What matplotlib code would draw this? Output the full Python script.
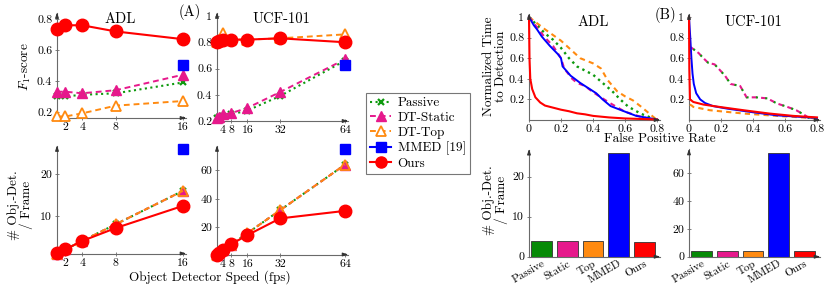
import matplotlib
matplotlib.use('Agg')
import matplotlib.pyplot as plt
from matplotlib.lines import Line2D

plt.rcParams['font.family'] = ['cmr10', 'DejaVu Serif']
plt.rcParams['mathtext.fontset'] = 'cm'
plt.rcParams['axes.formatter.use_mathtext'] = True

# ---------------- data ----------------
fps_adl = [1, 2, 4, 8, 16]
fps_ucf = [1, 2, 4, 8, 16, 32, 64]

f1_adl_passive = [0.30, 0.30, 0.31, 0.32, 0.39]
f1_adl_static = [0.33, 0.33, 0.32, 0.34, 0.44]
f1_adl_top = [0.17, 0.17, 0.19, 0.24, 0.27]
f1_adl_ours = [0.735, 0.76, 0.76, 0.72, 0.67]
f1_adl_mmed = [0.50]
fps_adl_mmed = [16]

f1_ucf_passive = [0.22, 0.23, 0.24, 0.25, 0.28, 0.39, 0.66]
f1_ucf_static = [0.22, 0.23, 0.25, 0.26, 0.30, 0.42, 0.67]
f1_ucf_top = [0.80, 0.82, 0.87, 0.82, 0.82, 0.83, 0.86]
f1_ucf_ours = [0.80, 0.81, 0.815, 0.82, 0.82, 0.83, 0.80]
f1_ucf_mmed = [0.63]
fps_ucf_mmed = [64]

det_adl_base = [1, 2, 4, 8, 16]
det_adl_ours = [1.1, 2, 4, 7.1, 12.4]
det_adl_mmed = [26]
det_ucf_base = [1, 2, 4, 8, 16, 32, 64]
det_ucf_ours = [1, 2, 4, 8.2, 14.6, 26.3, 31.6]
det_ucf_mmed = [75]

# ROC-like curves (false positive rate, normalized time to detection)
adl_ours_x = [0, 0.003, 0.008, 0.02, 0.04, 0.07, 0.1, 0.15, 0.2, 0.25, 0.3, 0.35, 0.4, 0.5, 0.6, 0.7, 0.8]
adl_ours_y = [1, 0.6, 0.4, 0.3, 0.22, 0.17, 0.14, 0.12, 0.1, 0.085, 0.065, 0.055, 0.04, 0.025, 0.015, 0.01, 0.005]
adl_mmed_x = [0, 0.03, 0.05, 0.08, 0.13, 0.18, 0.2, 0.21, 0.26, 0.32, 0.38, 0.42, 0.46, 0.51, 0.59, 0.67, 0.8]
adl_mmed_y = [1, 0.92, 0.88, 0.81, 0.72, 0.64, 0.6, 0.52, 0.43, 0.36, 0.30, 0.26, 0.2, 0.135, 0.087, 0.04, 0.005]
adl_passive_x = [0, 0.05, 0.1, 0.15, 0.2, 0.25, 0.3, 0.4, 0.46, 0.52, 0.57, 0.62, 0.7, 0.8]
adl_passive_y = [1, 0.92, 0.84, 0.78, 0.70, 0.60, 0.52, 0.44, 0.36, 0.28, 0.2, 0.13, 0.06, 0.0]
adl_static_x = [0, 0.05, 0.1, 0.15, 0.2, 0.22, 0.27, 0.3, 0.35, 0.4, 0.5, 0.6, 0.7, 0.8]
adl_static_y = [1, 0.9, 0.8, 0.72, 0.6, 0.5, 0.4, 0.36, 0.33, 0.27, 0.17, 0.08, 0.03, 0.0]
adl_top_x = [0, 0.1, 0.2, 0.32, 0.4, 0.45, 0.49, 0.55, 0.6, 0.65, 0.7, 0.8]
adl_top_y = [1, 0.88, 0.77, 0.6, 0.55, 0.5, 0.39, 0.28, 0.23, 0.19, 0.13, 0.0]

ucf_ours_x = [0, 0.002, 0.006, 0.027, 0.09, 0.19, 0.34, 0.5, 0.65, 0.8]
ucf_ours_y = [1, 0.5, 0.2, 0.175, 0.15, 0.127, 0.095, 0.063, 0.04, 0.025]
ucf_mmed_x = [0, 0.008, 0.015, 0.022, 0.03, 0.045, 0.07, 0.1, 0.15, 0.24, 0.4, 0.55, 0.8]
ucf_mmed_y = [1, 0.8, 0.6, 0.45, 0.35, 0.26, 0.2, 0.165, 0.135, 0.11, 0.075, 0.045, 0.02]
ucf_top_x = [0.005, 0.017, 0.027, 0.13, 0.34, 0.55, 0.8]
ucf_top_y = [0.15, 0.14, 0.127, 0.095, 0.063, 0.04, 0.016]
ucf_base_x = [0.005, 0.017, 0.06, 0.09, 0.12, 0.16, 0.19, 0.225, 0.26, 0.32, 0.36, 0.42, 0.49, 0.55, 0.61, 0.67, 0.72, 0.75, 0.8]
ucf_base_y = [0.71, 0.70, 0.65, 0.6, 0.555, 0.54, 0.49, 0.43, 0.35, 0.33, 0.22, 0.22, 0.21, 0.16, 0.13, 0.095, 0.05, 0.02, 0.015]

bar_labels = ['Passive', 'Static', 'Top', 'MMED', 'Ours']
bar_adl = [4.0, 4.0, 4.0, 26.0, 3.8]
bar_ucf = [4.2, 4.2, 4.2, 75.0, 4.0]

# ---------------- style ----------------
GREEN = '#0e9a0e'
PINK = '#e6198c'
ORANGE = '#ff8a10'
BLUE = '#0000ff'
RED = '#ff0000'
AXC = '#6a6a6a'
GREEN_BAR = '#078a07'

W, H = 831, 286
fig = plt.figure(figsize=(W / 100, H / 100), dpi=100)


def rect(l, r, t, b):
    return [l / W, 1 - b / H, (r - l) / W, (b - t) / H]


def style(ax, xt, xl, yt, yl, fs=8.5):
    for s in ax.spines.values():
        s.set_visible(False)
    kw = dict(arrowstyle='-|>,head_length=0.3,head_width=0.1', color='#333333',
              lw=0.8, shrinkA=0, shrinkB=0)
    ax.plot([0, 1.02], [0, 0], color=AXC, lw=0.8, transform=ax.transAxes,
            clip_on=False, zorder=1)
    ax.plot([0, 0], [0, 1.03], color=AXC, lw=0.8, transform=ax.transAxes,
            clip_on=False, zorder=1)
    ax.annotate('', xy=(1.025, 0), xytext=(1.0, 0), xycoords='axes fraction',
                arrowprops=kw, annotation_clip=False)
    ax.annotate('', xy=(0, 1.035), xytext=(0, 1.0), xycoords='axes fraction',
                arrowprops=kw, annotation_clip=False)
    ax.set_xticks(xt)
    ax.set_xticklabels(xl)
    ax.set_yticks(yt)
    ax.set_yticklabels(yl)
    ax.tick_params(direction='inout', length=3, width=0.6, color=AXC,
                   labelsize=fs, pad=2)
    ax.set_facecolor('none')


def lines(ax, x, passive, static, top, ours, xm, mmed):
    ax.plot(x, passive, ls=':', color=GREEN, lw=1.5, marker='x', ms=5, mew=1.6,
            clip_on=False, zorder=3)
    ax.plot(x, static, ls=(0, (3, 2)), color=PINK, lw=1.4, marker='^', ms=7,
            mfc=PINK, mec=PINK, clip_on=False, zorder=4)
    ax.plot(x, top, ls=(0, (3, 2)), color=ORANGE, lw=1.4, marker='^', ms=7,
            mfc='white', mec=ORANGE, mew=1.3, clip_on=False, zorder=3)
    ax.plot(xm, mmed, ls='-', color=BLUE, lw=1.5, marker='s', ms=7,
            clip_on=False, zorder=5)
    ax.plot(x, ours, ls='-', color=RED, lw=1.5, marker='o', ms=9,
            clip_on=False, zorder=6)


def lines_det(ax, x, base, ours, xm, mmed):
    ax.plot(x, base, ls=':', color=GREEN, lw=1.5, marker='x', ms=5, mew=1.6,
            clip_on=False, zorder=3)
    ax.plot(x, base, ls=(0, (3, 2)), color=PINK, lw=1.4, marker='^', ms=7,
            mfc=PINK, mec=PINK, clip_on=False, zorder=4)
    ax.plot(x, base, ls=(0, (3, 2)), color=ORANGE, lw=1.4, marker='^', ms=7,
            mfc='none', mec=ORANGE, mew=1.3, clip_on=False, zorder=5)
    ax.plot(xm, mmed, ls='-', color=BLUE, lw=1.5, marker='s', ms=7,
            clip_on=False, zorder=5)
    ax.plot(x, ours, ls='-', color=RED, lw=1.5, marker='o', ms=9,
            clip_on=False, zorder=6)


# ---- (A) F1 ADL ----
ax1 = fig.add_axes(rect(57, 183, 16, 118))
ax1.set_xlim(1, 16)
ax1.set_ylim(0.16, 0.82)
lines(ax1, fps_adl, f1_adl_passive, f1_adl_static, f1_adl_top, f1_adl_ours,
      fps_adl_mmed, f1_adl_mmed)
style(ax1, [2, 4, 8, 16], ['2', '4', '8', '16'], [0.2, 0.4, 0.6, 0.8],
      ['0.2', '0.4', '0.6', '0.8'])
ax1.set_title('ADL', fontsize=10.5, pad=1, y=0.92)

# ---- (A) F1 UCF ----
ax2 = fig.add_axes(rect(217, 345, 16, 121))
ax2.set_xlim(1, 64)
ax2.set_ylim(0.2, 1.0)
lines(ax2, fps_ucf, f1_ucf_passive, f1_ucf_static, f1_ucf_top, f1_ucf_ours,
      fps_ucf_mmed, f1_ucf_mmed)
style(ax2, [4, 8, 16, 32, 64], ['4', '8', '16', '32', '64'],
      [0.2, 0.4, 0.6, 0.8, 1.0], ['0.2', '0.4', '0.6', '0.8', '1'])
ax2.set_title('UCF-101', fontsize=10.5, pad=1, y=0.92)

# ---- (A) detections ADL ----
ax3 = fig.add_axes(rect(57, 183, 149, 253.5))
ax3.set_xlim(1, 16)
ax3.set_ylim(1, 26)
lines_det(ax3, fps_adl, det_adl_base, det_adl_ours, fps_adl_mmed, det_adl_mmed)
style(ax3, [2, 4, 8, 16], ['2', '4', '8', '16'], [10, 20], ['10', '20'])

# ---- (A) detections UCF ----
ax4 = fig.add_axes(rect(217, 345, 149, 254.5))
ax4.set_xlim(1, 64)
ax4.set_ylim(1, 75)
lines_det(ax4, fps_ucf, det_ucf_base, det_ucf_ours, fps_ucf_mmed, det_ucf_mmed)
style(ax4, [4, 8, 16, 32, 64], ['4', '8', '16', '32', '64'], [20, 40, 60],
      ['20', '40', '60'])

# ---- (B) ROC ADL ----
rx = [0, 0.2, 0.4, 0.6, 0.8]
rxl = ['0', '0.2', '0.4', '0.6', '0.8']
ry = [0.2, 0.4, 0.6, 0.8, 1.0]
ryl = ['0.2', '0.4', '0.6', '0.8', '1']
ax5 = fig.add_axes(rect(529, 657, 17, 120))
ax5.set_xlim(0, 0.8)
ax5.set_ylim(0, 1)
ax5.plot(adl_top_x, adl_top_y, ls=(0, (2.5, 2)), color=ORANGE, lw=1.5, clip_on=False)
ax5.plot(adl_passive_x, adl_passive_y, ls=':', color=GREEN, lw=1.7, clip_on=False)
ax5.plot(adl_static_x, adl_static_y, ls=(0, (2.5, 2)), color=PINK, lw=1.5, clip_on=False)
ax5.plot(adl_mmed_x, adl_mmed_y, ls='-', color=BLUE, lw=1.4, clip_on=False)
ax5.plot(adl_ours_x, adl_ours_y, ls='-', color=RED, lw=1.5, clip_on=False)
style(ax5, rx, rxl, ry, ryl)
ax5.set_title('ADL', fontsize=10.5, pad=1, y=0.9)

# ---- (B) ROC UCF ----
ax6 = fig.add_axes(rect(689, 817, 17, 120))
ax6.set_xlim(0, 0.8)
ax6.set_ylim(0, 1)
ax6.plot(ucf_base_x, ucf_base_y, ls=(0, (2.5, 2)), color=PINK, lw=1.5, clip_on=False)
ax6.plot(ucf_base_x, ucf_base_y, ls=(2.5, (1, 3.5)), color=GREEN, lw=1.5, clip_on=False)
ax6.plot(ucf_top_x, ucf_top_y, ls=(0, (2.5, 2)), color=ORANGE, lw=1.5, clip_on=False)
ax6.plot(ucf_mmed_x, ucf_mmed_y, ls='-', color=BLUE, lw=1.4, clip_on=False)
ax6.plot(ucf_ours_x, ucf_ours_y, ls='-', color=RED, lw=1.5, clip_on=False)
style(ax6, rx, rxl, ry, ryl)
ax6.set_title('UCF-101', fontsize=10.5, pad=1, y=0.9)

# ---- (B) bars ----
bar_colors = [GREEN_BAR, PINK, ORANGE, BLUE, RED]
ax7 = fig.add_axes(rect(529, 657, 152.7, 256.7))
ax7.bar(range(5), bar_adl, width=0.82, color=bar_colors, edgecolor='#333333', lw=0.6)
ax7.set_xlim(-0.5, 4.5)
ax7.set_ylim(0, 26)
style(ax7, range(5), bar_labels, [0, 10, 20], ['0', '10', '20'])
ax8 = fig.add_axes(rect(689, 817, 152.5, 256.7))
ax8.bar(range(5), bar_ucf, width=0.82, color=bar_colors, edgecolor='#333333', lw=0.6)
ax8.set_xlim(-0.5, 4.5)
ax8.set_ylim(0, 75)
style(ax8, range(5), bar_labels, [0, 20, 40, 60], ['0', '20', '40', '60'])
for ax in (ax7, ax8):
    ax.tick_params(axis='x', length=0, labelsize=8, pad=1.5)
    for t in ax.get_xticklabels():
        t.set_rotation(30)
        t.set_ha('right')
        t.set_rotation_mode('anchor')

# ---- labels ----
fig.text(25 / W, 1 - 67 / H, r'$F_1$-score', rotation=90, ha='center', va='center', fontsize=9.5)
fig.text(20 / W, 1 - 205 / H, '# Obj.-Det.\n/ Frame', rotation=90, ha='center', va='center',
         fontsize=9.5, linespacing=1.0)
fig.text(210 / W, 1 - 277 / H, 'Object Detector Speed (fps)', ha='center', va='center', fontsize=9.5)
fig.text(190 / W, 1 - 12 / H, '(A)', ha='center', va='center', fontsize=10.5)
fig.text(665 / W, 1 - 15 / H, '(B)', ha='center', va='center', fontsize=10.5)
fig.text(660 / W, 1 - 139 / H, 'False Positive Rate', ha='center', va='center', fontsize=9.5)
fig.text(495 / W, 1 - 66 / H, 'Normalized Time\nto Detection', rotation=90, ha='center',
         va='center', fontsize=9.5, linespacing=1.0)
fig.text(495 / W, 1 - 200 / H, '# Obj.-Det.\n/ Frame', rotation=90, ha='center', va='center',
         fontsize=9.5, linespacing=1.0)

# ---- legend ----
handles = [
    Line2D([], [], ls=':', color=GREEN, lw=1.5, marker='x', ms=5, mew=1.6),
    Line2D([], [], ls=(0, (3, 2)), color=PINK, lw=1.4, marker='^', ms=7, mfc=PINK),
    Line2D([], [], ls=(0, (3, 2)), color=ORANGE, lw=1.4, marker='^', ms=7, mfc='white', mew=1.3),
    Line2D([], [], ls='-', color=BLUE, lw=1.5, marker='s', ms=7),
    Line2D([], [], ls='-', color=RED, lw=1.5, marker='o', ms=8),
]
labels = ['Passive', 'DT-Static', 'DT-Top', 'MMED [19]', 'Ours']
leg = fig.legend(handles, labels, loc='upper left', bbox_to_anchor=(366 / W, 1 - 93 / H),
                 frameon=True, fancybox=False, edgecolor='#555555', fontsize=9.5,
                 handlelength=1.6, labelspacing=0.2, borderpad=0.3, handletextpad=0.5,
                 borderaxespad=0)
leg.get_frame().set_linewidth(0.8)

fig.savefig('out.png', dpi=100)
